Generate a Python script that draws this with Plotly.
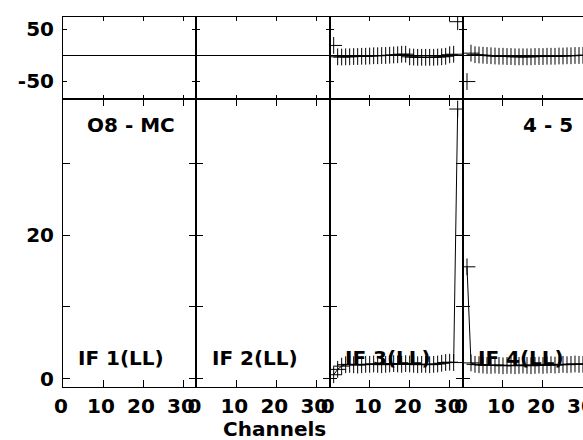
import plotly.graph_objects as go
from plotly.subplots import make_subplots

channels = list(range(1, 33))

if3_amp = [0.55, 1.3, 1.75, 1.95, 2.0, 1.95, 1.9, 1.95, 2.0, 2.0, 2.05, 2.0, 1.95, 2.0, 2.05, 2.1,
           2.05, 2.0, 2.1, 2.05, 2.0, 1.95, 2.0, 2.0, 1.95, 2.0, 2.05, 2.15, 2.25, 2.3, 2.25, 37.6]
if4_amp = [15.6, 2.2, 2.0, 1.95, 1.9, 1.85, 1.85, 1.9, 1.85, 1.8, 1.85, 1.85, 1.8, 1.85, 1.9, 1.85,
           1.8, 1.85, 1.9, 1.85, 1.9, 1.95, 1.9, 1.95, 2.0, 1.95, 2.0, 2.05, 2.0, 2.0, 2.05, 2.0]
if3_phase = [19, -3, -3.5, -3, -3, -2.5, -2.5, -2, -2, -1.5, -1, -1, -0.5, -0.5, 0, 0.5,
             1, 2, 2, -3, -3.5, -4, -4, -4, -4, -4, -3.5, -3, -2, 1, 2, 65]
if4_phase = [-51, 4, 1, 0.5, 0, -0.5, -1, -1.5, -2, -2, -2.5, -2.5, -3, -3, -3, -3,
             -3, -2.5, -2.5, -2.5, -2, -2, -2, -1.5, -1.5, -1, -1, -0.5, -0.5, 0, 0, 0]

if_labels = ["IF 1(LL)", "IF 2(LL)", "IF 3(LL)", "IF 4(LL)"]
x_tickvals = [0, 10, 20, 30]
x_ticktext = ["0", "10", "20", "30"]
amp_tickvals = [0, 10, 20, 30]
amp_ticktext = ["0", "", "20", ""]
phase_tickvals = [-50, 50]
phase_ticktext = ["-50", "50"]
baseline_label = "O8 - MC"
antenna_label = "4 - 5"
x_title = "Channels"

# which IF panels carry data (index 0..3)
amp_data = {2: if3_amp, 3: if4_amp}
phase_data = {2: if3_phase, 3: if4_phase}

FONT = "DejaVu Sans"
W, H = 583, 440
L, R, T, B = 63, 0, 17, 53
PW = W - L - R
PH = H - T - B
panel_px = 133.33
col_px = [panel_px, panel_px, panel_px, PW - 3 * panel_px]

fig = make_subplots(rows=2, cols=4, column_widths=col_px, row_heights=[82, 288],
                    horizontal_spacing=0, vertical_spacing=0)

marker = dict(symbol="cross-thin", size=12, color="black", line=dict(color="black", width=1))

for k in range(4):
    ph = phase_data.get(k, [])
    am = amp_data.get(k, [])
    fig.add_trace(go.Scatter(x=channels[:len(ph)], y=ph, mode="markers", marker=marker,
                             showlegend=False, hoverinfo="skip"), row=1, col=k + 1)
    fig.add_trace(go.Scatter(x=channels[:len(am)], y=am, mode="lines+markers", marker=marker,
                             line=dict(color="black", width=1),
                             showlegend=False, hoverinfo="skip"), row=2, col=k + 1)

for k in range(4):
    xr = [0, col_px[k] / 4.0]
    for row, tl in ((1, 4), (2, 7)):
        fig.update_xaxes(range=xr, tickvals=x_tickvals, ticktext=x_ticktext,
                         ticks="inside", ticklen=tl, tickwidth=1, tickcolor="black",
                         showline=True, linecolor="black", linewidth=1, mirror="ticks",
                         showgrid=False, zeroline=False, automargin=False,
                         showticklabels=(row == 2), ticklabeloverflow="allow",
                         ticklabelshift=-2,
                         tickfont=dict(family=FONT, size=20, color="black", weight="bold"),
                         ticklabelstandoff=1,
                         row=row, col=k + 1)
    fig.update_yaxes(range=[-84.8, 74.1], tickvals=phase_tickvals, ticktext=phase_ticktext,
                     ticks="inside", ticklen=4, tickwidth=1, tickcolor="black",
                     showline=True, linecolor="black", linewidth=1,
                     mirror=("ticks" if k < 3 else False), automargin=False,
                     showgrid=False, zeroline=True, zerolinecolor="black", zerolinewidth=1,
                     showticklabels=(k == 0),
                     tickfont=dict(family=FONT, size=20, color="black", weight="bold"),
                     ticklabelstandoff=4,
                     row=1, col=k + 1)
    fig.update_yaxes(range=[-1.16, 39.0], tickvals=amp_tickvals, ticktext=amp_ticktext,
                     ticks="inside", ticklen=7, tickwidth=1, tickcolor="black",
                     showline=True, linecolor="black", linewidth=1,
                     mirror=("ticks" if k < 3 else False), automargin=False,
                     showgrid=False, zeroline=False,
                     showticklabels=(k == 0),
                     tickfont=dict(family=FONT, size=20, color="black", weight="bold"),
                     ticklabelstandoff=4,
                     row=2, col=k + 1)

def px_x(x):
    return (x - L) / PW

def px_y(y):
    return (H - B - y) / PH

annots = []
afont = dict(family=FONT, size=20, color="black", weight="bold")
for k, lab in enumerate(if_labels):
    annots.append(dict(text=lab, x=px_x(121.2 + k * panel_px), y=px_y(358), xref="paper", yref="paper",
                       xanchor="center", yanchor="middle", showarrow=False, font=afont))
annots.append(dict(text=baseline_label, x=px_x(131.2), y=px_y(124.5), xref="paper", yref="paper",
                   xanchor="center", yanchor="middle", showarrow=False, font=afont))
annots.append(dict(text=antenna_label, x=px_x(548.3), y=px_y(125), xref="paper", yref="paper",
                   xanchor="center", yanchor="middle", showarrow=False, font=afont))
annots.append(dict(text=x_title, x=px_x(274.7), y=px_y(429), xref="paper", yref="paper",
                   xanchor="center", yanchor="middle", showarrow=False, font=afont))

fig.update_layout(width=W, height=H, margin=dict(l=L, r=R, t=T, b=B, autoexpand=False),
                  paper_bgcolor="white", plot_bgcolor="white", annotations=annots,
                  showlegend=False)

fig.write_html("out.html", config={"displayModeBar": False},
               post_script="document.body.style.margin='0';")
